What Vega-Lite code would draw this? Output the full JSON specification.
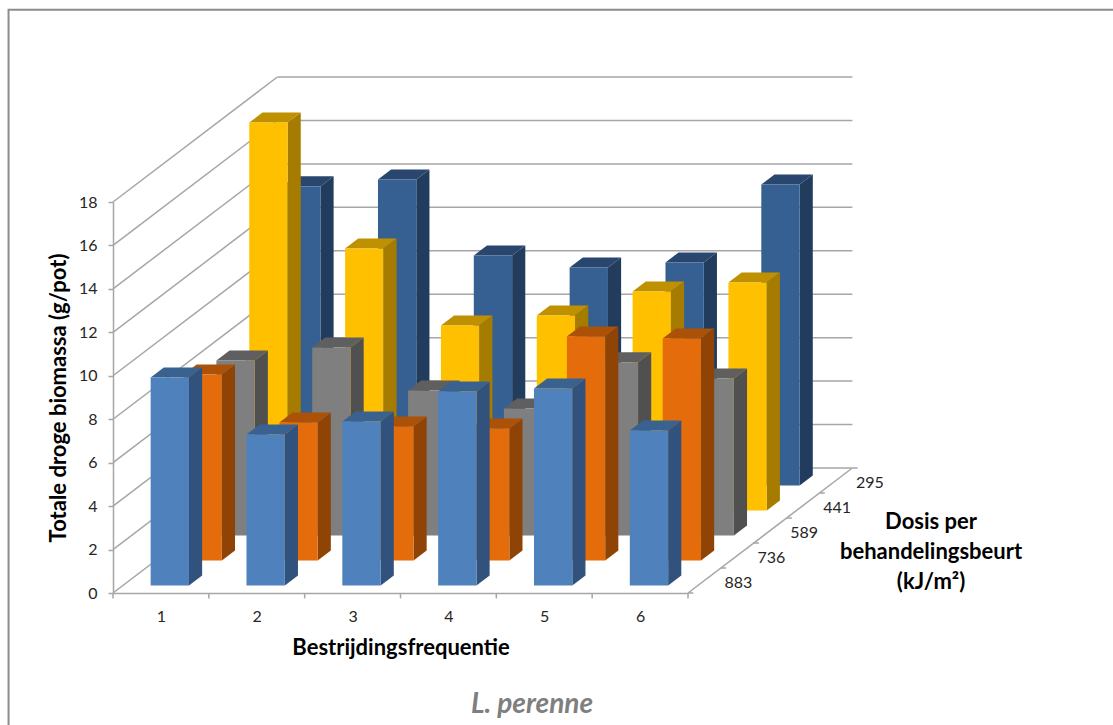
{
  "$schema": "https://vega.github.io/schema/vega-lite/v6.json",
  "autosize": {"type": "none"},
  "padding": {"left": 113, "top": 202, "right": 425, "bottom": 132},
  "width": 575,
  "height": 391,
  "background": "white",
  "config": {
    "view": {"stroke": null},
    "font": "Lato",
    "axis": {"grid": false, "labelFont": "Lato", "titleFont": "Lato"}
  },
  "params": [
    {"name": "rowDx", "value": 0.343},
    {"name": "rowDy", "value": 1.151}
  ],
  "datasets": {
    "bars": [
      {"freq": 1, "dose": 883, "biomass": 9.58},
      {"freq": 2, "dose": 883, "biomass": 6.95},
      {"freq": 3, "dose": 883, "biomass": 7.55},
      {"freq": 4, "dose": 883, "biomass": 8.93},
      {"freq": 5, "dose": 883, "biomass": 9.07},
      {"freq": 6, "dose": 883, "biomass": 7.14},
      {"freq": 1, "dose": 736, "biomass": 8.56},
      {"freq": 2, "dose": 736, "biomass": 6.35},
      {"freq": 3, "dose": 736, "biomass": 6.17},
      {"freq": 4, "dose": 736, "biomass": 6.08},
      {"freq": 5, "dose": 736, "biomass": 10.31},
      {"freq": 6, "dose": 736, "biomass": 10.22},
      {"freq": 1, "dose": 589, "biomass": 8.06},
      {"freq": 2, "dose": 589, "biomass": 8.66},
      {"freq": 3, "dose": 589, "biomass": 6.68},
      {"freq": 4, "dose": 589, "biomass": 5.85},
      {"freq": 5, "dose": 589, "biomass": 7.97},
      {"freq": 6, "dose": 589, "biomass": 7.23},
      {"freq": 1, "dose": 441, "biomass": 17.86},
      {"freq": 2, "dose": 441, "biomass": 12.06},
      {"freq": 3, "dose": 441, "biomass": 8.52},
      {"freq": 4, "dose": 441, "biomass": 8.98},
      {"freq": 5, "dose": 441, "biomass": 10.08},
      {"freq": 6, "dose": 441, "biomass": 10.5},
      {"freq": 1, "dose": 295, "biomass": 13.77},
      {"freq": 2, "dose": 295, "biomass": 14.09},
      {"freq": 3, "dose": 295, "biomass": 10.59},
      {"freq": 4, "dose": 295, "biomass": 10.04},
      {"freq": 5, "dose": 295, "biomass": 10.27},
      {"freq": 6, "dose": 295, "biomass": 13.86}
    ],
    "levels": [
      {"level": 0}, {"level": 2}, {"level": 4}, {"level": 6}, {"level": 8},
      {"level": 10}, {"level": 12}, {"level": 14}, {"level": 16}, {"level": 18}
    ],
    "freqTicks": [
      {"tick": 0}, {"tick": 1}, {"tick": 2}, {"tick": 3}, {"tick": 4}, {"tick": 5}, {"tick": 6}
    ],
    "doses": [
      {"dose": "883", "row": 0},
      {"dose": "736", "row": 1},
      {"dose": "589", "row": 2},
      {"dose": "441", "row": 3},
      {"dose": "295", "row": 4}
    ],
    "depthTicks": [
      {"row": 0}, {"row": 1}, {"row": 2}, {"row": 3}, {"row": 4}, {"row": 5}
    ]
  },
  "layer": [
    {
      "description": "Outer chart frame; its right and bottom sides run past the canvas",
      "data": {"values": [{"left": -1.09, "right": 10.6, "top": 26.85, "bottom": -8}]},
      "mark": {"type": "rect", "fill": null, "stroke": "#8c8c8c", "strokeWidth": 2},
      "encoding": {
        "x": {"field": "left", "type": "quantitative", "scale": {"domain": [0, 6]}},
        "x2": {"field": "right"},
        "y": {"field": "top", "type": "quantitative", "scale": {"domain": [0, 18]}},
        "y2": {"field": "bottom"}
      }
    },
    {
      "description": "Left wall gridlines, running back from the value axis",
      "data": {"name": "levels"},
      "transform": [
        {"calculate": "5 * rowDx", "as": "backX"},
        {"calculate": "datum.level + 5 * rowDy", "as": "backY"},
        {"calculate": "0", "as": "frontX"}
      ],
      "mark": {"type": "rule", "color": "#a6a6a6", "strokeWidth": 1.5},
      "encoding": {
        "x": {
          "field": "frontX", "type": "quantitative", "scale": {"domain": [0, 6]},
          "title": "Bestrijdingsfrequentie",
          "axis": {
            "values": [0.5, 1.5, 2.5, 3.5, 4.5, 5.5],
            "labelExpr": "datum.value + 0.5",
            "ticks": false,
            "labelPadding": 15,
            "labelFontSize": 16,
            "labelColor": "#262626",
            "labelAngle": 0,
            "domainColor": "#a6a6a6",
            "domainWidth": 1.5,
            "titleFontSize": 22,
            "titleFontWeight": "bold",
            "titleColor": "black",
            "titlePadding": 13
          }
        },
        "x2": {"field": "backX"},
        "y": {
          "field": "level", "type": "quantitative", "scale": {"domain": [0, 18]},
          "title": "Totale droge biomassa (g/pot)",
          "axis": {
            "values": [0, 2, 4, 6, 8, 10, 12, 14, 16, 18],
            "tickColor": "#a6a6a6",
            "tickSize": 5,
            "tickWidth": 1.5,
            "labelPadding": 11,
            "labelFontSize": 16,
            "labelColor": "#262626",
            "domainColor": "#a6a6a6",
            "domainWidth": 1.5,
            "titleFontSize": 22,
            "titleFontWeight": "bold",
            "titleColor": "black",
            "titlePadding": 8
          }
        },
        "y2": {"field": "backY"}
      }
    },
    {
      "description": "Back wall gridlines",
      "data": {"name": "levels"},
      "transform": [
        {"calculate": "5 * rowDx", "as": "backLeft"},
        {"calculate": "6 + 5 * rowDx", "as": "backRight"},
        {"calculate": "datum.level + 5 * rowDy", "as": "backY"}
      ],
      "mark": {"type": "rule", "color": "#a6a6a6", "strokeWidth": 1.5},
      "encoding": {
        "x": {"field": "backLeft", "type": "quantitative", "scale": {"domain": [0, 6]}},
        "x2": {"field": "backRight"},
        "y": {"field": "backY", "type": "quantitative", "scale": {"domain": [0, 18]}}
      }
    },
    {
      "description": "Floor edge on the right, carrying the dose axis",
      "data": {"values": [{"x0": 6, "y0": 0}]},
      "transform": [
        {"calculate": "datum.x0 + 5 * rowDx", "as": "x1"},
        {"calculate": "datum.y0 + 5 * rowDy", "as": "y1"}
      ],
      "mark": {"type": "rule", "color": "#a6a6a6", "strokeWidth": 1.5},
      "encoding": {
        "x": {"field": "x0", "type": "quantitative", "scale": {"domain": [0, 6]}},
        "x2": {"field": "x1"},
        "y": {"field": "y0", "type": "quantitative", "scale": {"domain": [0, 18]}},
        "y2": {"field": "y1"}
      }
    },
    {
      "description": "Tick marks between frequency classes",
      "data": {"name": "freqTicks"},
      "transform": [
        {"calculate": "0", "as": "y0"},
        {"calculate": "-0.25", "as": "y1"}
      ],
      "mark": {"type": "rule", "color": "#a6a6a6", "strokeWidth": 1.5},
      "encoding": {
        "x": {"field": "tick", "type": "quantitative", "scale": {"domain": [0, 6]}},
        "y": {"field": "y0", "type": "quantitative", "scale": {"domain": [0, 18]}},
        "y2": {"field": "y1"}
      }
    },
    {
      "description": "Tick marks along the dose axis",
      "data": {"name": "depthTicks"},
      "transform": [
        {"calculate": "6 + datum.row * rowDx", "as": "x0"},
        {"calculate": "datum.x0 + 0.055", "as": "x1"},
        {"calculate": "datum.row * rowDy", "as": "y0"}
      ],
      "mark": {"type": "rule", "color": "#a6a6a6", "strokeWidth": 1.5},
      "encoding": {
        "x": {"field": "x0", "type": "quantitative", "scale": {"domain": [0, 6]}},
        "x2": {"field": "x1"},
        "y": {"field": "y0", "type": "quantitative", "scale": {"domain": [0, 18]}}
      }
    },
    {
      "description": "Dose labels",
      "data": {"name": "doses"},
      "transform": [
        {"calculate": "6 + (datum.row + 0.5) * rowDx + 0.355", "as": "lx"},
        {"calculate": "(datum.row + 0.5) * rowDy - 0.1", "as": "ly"}
      ],
      "mark": {"type": "text", "fontSize": 16, "color": "#262626", "align": "center", "baseline": "middle"},
      "encoding": {
        "x": {"field": "lx", "type": "quantitative", "scale": {"domain": [0, 6]}},
        "y": {"field": "ly", "type": "quantitative", "scale": {"domain": [0, 18]}},
        "text": {"field": "dose", "type": "nominal"}
      }
    },
    {
      "description": "Dose axis title",
      "data": {"values": [{"label": ["Dosis per", "behandelingsbeurt", "(kJ/m²)"], "lx": 8.536, "ly": 3.27}]},
      "mark": {"type": "text", "fontSize": 22, "fontWeight": "bold", "color": "black", "align": "center", "baseline": "middle", "lineHeight": 30},
      "encoding": {
        "x": {"field": "lx", "type": "quantitative", "scale": {"domain": [0, 6]}},
        "y": {"field": "ly", "type": "quantitative", "scale": {"domain": [0, 18]}},
        "text": {"field": "label"}
      }
    },
    {
      "description": "Species name below the chart",
      "data": {"values": [{"label": "L. perenne", "lx": 4.372, "ly": -5.15}]},
      "mark": {"type": "text", "fontSize": 28, "fontWeight": "bold", "fontStyle": "italic", "color": "#7f7f7f", "align": "center", "baseline": "middle"},
      "encoding": {
        "x": {"field": "lx", "type": "quantitative", "scale": {"domain": [0, 6]}},
        "y": {"field": "ly", "type": "quantitative", "scale": {"domain": [0, 18]}},
        "text": {"field": "label"}
      }
    },
    {
      "description": "Bars, drawn row by row from the back; every bar has a front, a right side and a top face",
      "data": {"name": "bars"},
      "transform": [
        {"calculate": "indexof([883, 736, 589, 441, 295], datum.dose)", "as": "row"},
        {"calculate": "datum.freq - 1 + 0.29 + (datum.row + 0.3) * rowDx", "as": "xLeft"},
        {"calculate": "datum.xLeft + 0.4", "as": "xRight"},
        {"calculate": "(datum.row + 0.3) * rowDy", "as": "yBase"},
        {"calculate": "datum.yBase + datum.biomass", "as": "yTop"},
        {"calculate": "[0, 0.4]", "as": "edge"},
        {"flatten": ["edge"]},
        {"calculate": "datum.xRight + datum.edge * rowDx", "as": "sideX"},
        {"calculate": "datum.yBase + datum.edge * rowDy", "as": "sideLow"},
        {"calculate": "datum.yTop + datum.edge * rowDy", "as": "sideHigh"},
        {"calculate": "datum.xLeft + datum.edge * rowDx", "as": "topLeft"}
      ],
      "layer": [
        {
          "transform": [{"filter": "datum.dose === 295"}],
          "layer": [
            {"mark": {"type": "area", "orient": "vertical", "color": "#213c5c"}, "encoding": {"x": {"field": "sideX", "type": "quantitative", "scale": {"domain": [0, 6]}}, "y": {"field": "sideHigh", "type": "quantitative", "scale": {"domain": [0, 18]}}, "y2": {"field": "sideLow"}, "detail": {"field": "freq"}}},
            {"mark": {"type": "area", "orient": "horizontal", "color": "#29476e"}, "encoding": {"y": {"field": "sideHigh", "type": "quantitative", "scale": {"domain": [0, 18]}}, "x": {"field": "topLeft", "type": "quantitative", "scale": {"domain": [0, 6]}}, "x2": {"field": "sideX"}, "detail": {"field": "freq"}}},
            {"transform": [{"filter": "datum.edge === 0"}], "mark": {"type": "rect", "color": "#366092"}, "encoding": {"x": {"field": "xLeft", "type": "quantitative", "scale": {"domain": [0, 6]}}, "x2": {"field": "xRight"}, "y": {"field": "yTop", "type": "quantitative", "scale": {"domain": [0, 18]}}, "y2": {"field": "yBase"}}}
          ]
        },
        {
          "transform": [{"filter": "datum.dose === 441"}],
          "layer": [
            {"mark": {"type": "area", "orient": "vertical", "color": "#a67c00"}, "encoding": {"x": {"field": "sideX", "type": "quantitative", "scale": {"domain": [0, 6]}}, "y": {"field": "sideHigh", "type": "quantitative", "scale": {"domain": [0, 18]}}, "y2": {"field": "sideLow"}, "detail": {"field": "freq"}}},
            {"mark": {"type": "area", "orient": "horizontal", "color": "#bf9000"}, "encoding": {"y": {"field": "sideHigh", "type": "quantitative", "scale": {"domain": [0, 18]}}, "x": {"field": "topLeft", "type": "quantitative", "scale": {"domain": [0, 6]}}, "x2": {"field": "sideX"}, "detail": {"field": "freq"}}},
            {"transform": [{"filter": "datum.edge === 0"}], "mark": {"type": "rect", "color": "#ffc000"}, "encoding": {"x": {"field": "xLeft", "type": "quantitative", "scale": {"domain": [0, 6]}}, "x2": {"field": "xRight"}, "y": {"field": "yTop", "type": "quantitative", "scale": {"domain": [0, 18]}}, "y2": {"field": "yBase"}}}
          ]
        },
        {
          "transform": [{"filter": "datum.dose === 589"}],
          "layer": [
            {"mark": {"type": "area", "orient": "vertical", "color": "#505050"}, "encoding": {"x": {"field": "sideX", "type": "quantitative", "scale": {"domain": [0, 6]}}, "y": {"field": "sideHigh", "type": "quantitative", "scale": {"domain": [0, 18]}}, "y2": {"field": "sideLow"}, "detail": {"field": "freq"}}},
            {"mark": {"type": "area", "orient": "horizontal", "color": "#5f5f5f"}, "encoding": {"y": {"field": "sideHigh", "type": "quantitative", "scale": {"domain": [0, 18]}}, "x": {"field": "topLeft", "type": "quantitative", "scale": {"domain": [0, 6]}}, "x2": {"field": "sideX"}, "detail": {"field": "freq"}}},
            {"transform": [{"filter": "datum.edge === 0"}], "mark": {"type": "rect", "color": "#7f7f7f"}, "encoding": {"x": {"field": "xLeft", "type": "quantitative", "scale": {"domain": [0, 6]}}, "x2": {"field": "xRight"}, "y": {"field": "yTop", "type": "quantitative", "scale": {"domain": [0, 18]}}, "y2": {"field": "yBase"}}}
          ]
        },
        {
          "transform": [{"filter": "datum.dose === 736"}],
          "layer": [
            {"mark": {"type": "area", "orient": "vertical", "color": "#8f4406"}, "encoding": {"x": {"field": "sideX", "type": "quantitative", "scale": {"domain": [0, 6]}}, "y": {"field": "sideHigh", "type": "quantitative", "scale": {"domain": [0, 18]}}, "y2": {"field": "sideLow"}, "detail": {"field": "freq"}}},
            {"mark": {"type": "area", "orient": "horizontal", "color": "#ac5108"}, "encoding": {"y": {"field": "sideHigh", "type": "quantitative", "scale": {"domain": [0, 18]}}, "x": {"field": "topLeft", "type": "quantitative", "scale": {"domain": [0, 6]}}, "x2": {"field": "sideX"}, "detail": {"field": "freq"}}},
            {"transform": [{"filter": "datum.edge === 0"}], "mark": {"type": "rect", "color": "#e46c0a"}, "encoding": {"x": {"field": "xLeft", "type": "quantitative", "scale": {"domain": [0, 6]}}, "x2": {"field": "xRight"}, "y": {"field": "yTop", "type": "quantitative", "scale": {"domain": [0, 18]}}, "y2": {"field": "yBase"}}}
          ]
        },
        {
          "transform": [{"filter": "datum.dose === 883"}],
          "layer": [
            {"mark": {"type": "area", "orient": "vertical", "color": "#30527c"}, "encoding": {"x": {"field": "sideX", "type": "quantitative", "scale": {"domain": [0, 6]}}, "y": {"field": "sideHigh", "type": "quantitative", "scale": {"domain": [0, 18]}}, "y2": {"field": "sideLow"}, "detail": {"field": "freq"}}},
            {"mark": {"type": "area", "orient": "horizontal", "color": "#3a6290"}, "encoding": {"y": {"field": "sideHigh", "type": "quantitative", "scale": {"domain": [0, 18]}}, "x": {"field": "topLeft", "type": "quantitative", "scale": {"domain": [0, 6]}}, "x2": {"field": "sideX"}, "detail": {"field": "freq"}}},
            {"transform": [{"filter": "datum.edge === 0"}], "mark": {"type": "rect", "color": "#4f81bd"}, "encoding": {"x": {"field": "xLeft", "type": "quantitative", "scale": {"domain": [0, 6]}}, "x2": {"field": "xRight"}, "y": {"field": "yTop", "type": "quantitative", "scale": {"domain": [0, 18]}}, "y2": {"field": "yBase"}}}
          ]
        }
      ]
    }
  ]
}
